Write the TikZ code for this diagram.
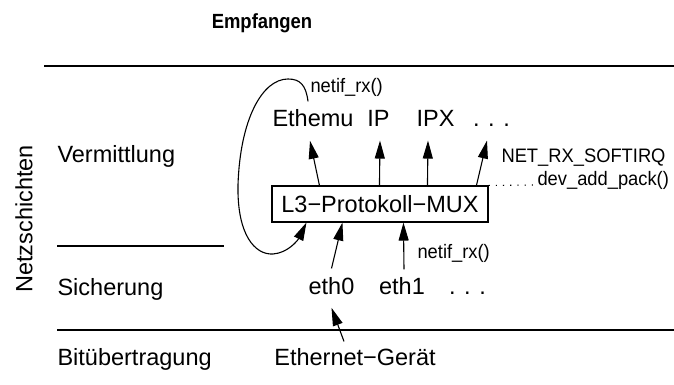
\documentclass[tikz,border=0pt]{standalone}
\usepackage{fontspec}
\setmainfont{Liberation Sans}
\usetikzlibrary{arrows.meta}

\begin{document}
\begin{tikzpicture}[
  x=1pt, y=-1pt,
  line width=1.1pt,
  big/.style={font=\fontsize{23.5}{28}\selectfont, inner sep=0pt},
  small/.style={font=\fontsize{19.5}{23}\selectfont, inner sep=0pt, xscale=0.94, transform shape},
  box/.style={draw, big, minimum width=216pt, minimum height=36pt},
  arr/.style={-{Triangle[length=18pt,width=10pt]}}
]
\useasboundingbox (0,0) rectangle (674,385);

% layers
\node[font=\bfseries\fontsize{20.5}{24}\selectfont, xscale=0.9, transform shape, anchor=base] (title) at (262,29) {Empfangen};
\node[big, rotate=90] (schichten) at (24,219) {Netzschichten};
\node[big, anchor=base west] (vermittlung) at (57,162) {Vermittlung};
\node[big, anchor=base west] (sicherung) at (57,295) {Sicherung};
\node[big, anchor=base west] (bitueb) at (57,365) {Bitübertragung};
\draw (44,66) -- (674,66);
\draw (57,246) -- (224,246);
\draw (57,330) -- (674,330);

% protocols
\node[box] (mux) at (380,204) {L3−Protokoll−MUX};
\node[big, anchor=base] (ethemu) at (313,127) {Ethemu};
\node[big, anchor=base] (ip) at (378.5,127) {IP};
\node[big, anchor=base] (ipx) at (435.5,127) {IPX};
\node[big, anchor=base] (pdots) at (491.5,127) {. . .};

% devices
\node[big, anchor=base] (eth0) at (331.5,294) {eth0};
\node[big, anchor=base] (eth1) at (402,294) {eth1};
\node[big, anchor=base] (edots) at (467.5,294) {. . .};
\node[big, anchor=base] (geraet) at (355,365) {Ethernet−Gerät};

% functions
\node[small, anchor=base west] (rxtop) at (310,93) {netif\_rx()};
\node[small, anchor=base west] (rxbot) at (417,258) {netif\_rx()};
\node[small, anchor=base west] (softirq) at (501,162) {NET\_RX\_SOFTIRQ};
\node[small, anchor=base west] (addpack) at (537,185) {dev\_add\_pack()};

\draw[arr] ([xshift=48pt]mux.north west) -- ([xshift=-3pt,yshift=-13pt]ethemu.south);
\draw[arr] ([xshift=108pt]mux.north west) -- ([xshift=1.5pt,yshift=-13pt]ip.south);
\draw[arr] ([xshift=156pt]mux.north west) -- ([xshift=-7.5pt,yshift=-13pt]ipx.south);
\draw[arr] ([xshift=205pt]mux.north west) -- ([xshift=-4.5pt,yshift=-13pt]pdots.south);

\draw[arr] ([yshift=8pt]eth0.north) -- ([xshift=71pt]mux.south west);
\draw[arr] ([xshift=2pt,yshift=7pt]eth1.north) -- ([xshift=132pt]mux.south west);
\draw[arr] ([xshift=-11pt,yshift=6pt]geraet.north) -- ([yshift=-13pt]eth0.south);

\draw[arr] ([xshift=-5pt,yshift=8pt]ethemu.north) .. controls (306,85) and (300,79) .. (288,79)
  .. controls (262,79) and (240,120) .. (238,185)
  .. controls (237,235) and (255,255) .. (273,254)
  .. controls (288,253) and (298,240) .. ([xshift=35pt]mux.south west);

\draw[dash pattern=on 1.2pt off 6pt] (mux.north east) -- ([xshift=-3pt]addpack.base west);
\end{tikzpicture}
\end{document}
